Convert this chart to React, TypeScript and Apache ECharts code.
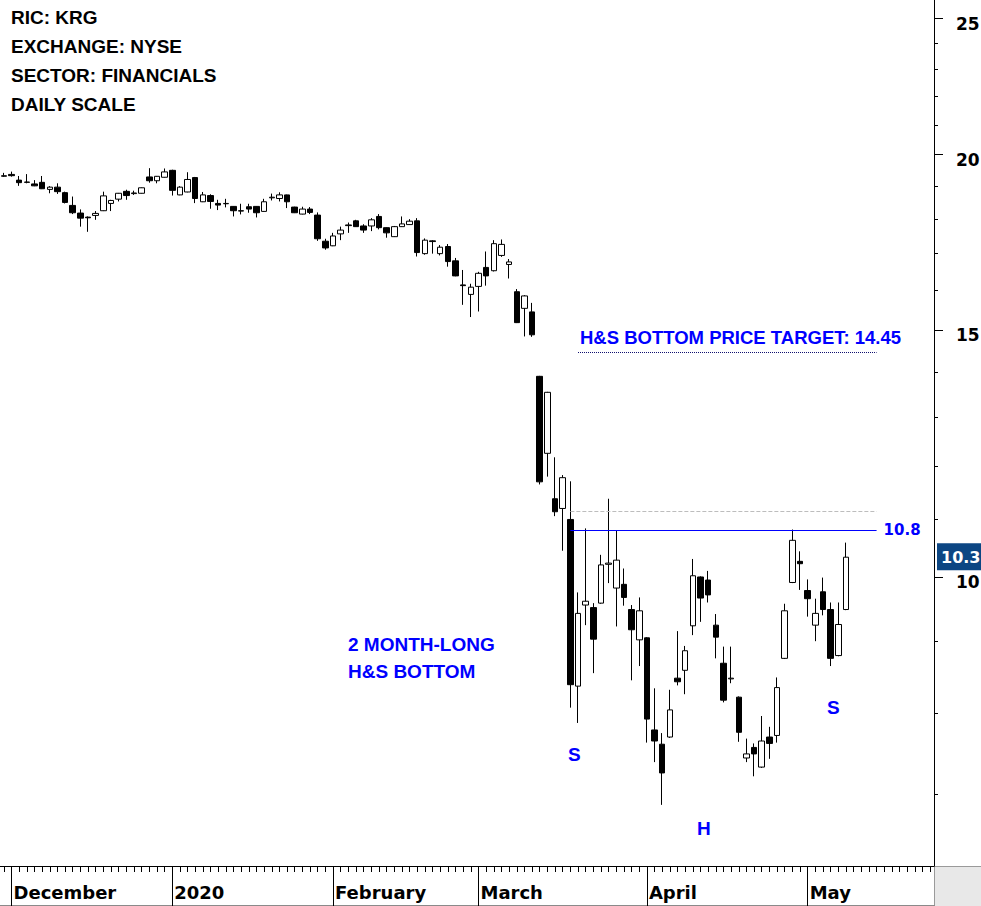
import React, { useEffect, useRef } from "react";
import * as echarts from "echarts";

// Trading days (categories) – data ends 2020-05-08, axis runs on into late May
const dates: string[] = [
  "2019-11-29",
  "2019-12-02", "2019-12-03", "2019-12-04", "2019-12-05", "2019-12-06", "2019-12-09", "2019-12-10", "2019-12-11", "2019-12-12", "2019-12-13",
  "2019-12-16", "2019-12-17", "2019-12-18", "2019-12-19", "2019-12-20", "2019-12-23", "2019-12-24", "2019-12-26", "2019-12-27", "2019-12-30", "2019-12-31",
  "2020-01-02", "2020-01-03", "2020-01-06", "2020-01-07", "2020-01-08", "2020-01-09", "2020-01-10", "2020-01-13", "2020-01-14", "2020-01-15",
  "2020-01-16", "2020-01-17", "2020-01-21", "2020-01-22", "2020-01-23", "2020-01-24", "2020-01-27", "2020-01-28", "2020-01-29", "2020-01-30", "2020-01-31",
  "2020-02-03", "2020-02-04", "2020-02-05", "2020-02-06", "2020-02-07", "2020-02-10", "2020-02-11", "2020-02-12", "2020-02-13", "2020-02-14",
  "2020-02-18", "2020-02-19", "2020-02-20", "2020-02-21", "2020-02-24", "2020-02-25", "2020-02-26", "2020-02-27", "2020-02-28",
  "2020-03-02", "2020-03-03", "2020-03-04", "2020-03-05", "2020-03-06", "2020-03-09", "2020-03-10", "2020-03-11", "2020-03-12", "2020-03-13",
  "2020-03-16", "2020-03-17", "2020-03-18", "2020-03-19", "2020-03-20", "2020-03-23", "2020-03-24", "2020-03-25", "2020-03-26", "2020-03-27",
  "2020-03-30", "2020-03-31",
  "2020-04-01", "2020-04-02", "2020-04-03", "2020-04-06", "2020-04-07", "2020-04-08", "2020-04-09", "2020-04-13", "2020-04-14", "2020-04-15",
  "2020-04-16", "2020-04-17", "2020-04-20", "2020-04-21", "2020-04-22", "2020-04-23", "2020-04-24", "2020-04-27", "2020-04-28", "2020-04-29", "2020-04-30",
  "2020-05-01", "2020-05-04", "2020-05-05", "2020-05-06", "2020-05-07", "2020-05-08",
  "2020-05-11", "2020-05-12", "2020-05-13", "2020-05-14", "2020-05-15", "2020-05-18", "2020-05-19", "2020-05-20", "2020-05-21", "2020-05-22", "2020-05-26",
];

const opens = [
  19.30, 19.36, 19.18, 19.12, 19.06, 19.11, 18.89, 18.96, 18.79, 18.40,
  18.17, 18.05, 18.10, 18.24, 18.46, 18.59, 18.83, 18.76, 18.77, 19.28,
  19.16, 19.27, 19.49, 18.72, 18.81, 19.26, 18.51, 18.70, 18.46, 18.45,
  18.37, 18.24, 18.36, 18.37, 18.22, 18.63, 18.61, 18.72, 18.35, 18.14,
  18.29, 18.11, 17.35, 17.22, 17.56, 17.82, 17.94, 17.79, 17.79, 18.07,
  17.74, 17.48, 17.77, 17.83, 17.94, 17.00, 17.36, 17.00, 17.20, 16.80,
  16.15, 15.90, 16.11, 16.62, 16.53, 16.95, 16.70, 15.97, 15.54, 15.45,
  13.90, 12.25, 11.37, 11.19, 10.99, 8.36, 9.55, 9.51, 9.58, 10.21,
  9.82, 9.88, 9.48, 9.02, 9.05, 7.78, 7.60, 7.69, 8.47, 8.58,
  9.23, 10.00, 9.95, 9.24, 8.68, 8.46, 8.21, 7.43, 7.56, 7.32,
  7.69, 7.71, 8.75, 9.91, 10.26, 9.78, 9.24, 9.76, 9.48, 8.79,
  9.48,
];

const closes = [
  19.32, 19.32, 19.10, 19.11, 19.00, 18.91, 18.96, 18.82, 18.49, 18.18,
  18.02, 18.03, 18.16, 18.69, 18.55, 18.77, 18.70, 18.78, 18.94, 19.16,
  19.30, 19.44, 18.86, 18.96, 19.20, 18.61, 18.72, 18.52, 18.41, 18.46,
  18.24, 18.23, 18.29, 18.18, 18.51, 18.65, 18.72, 18.51, 18.18, 18.29,
  18.19, 17.42, 17.16, 17.50, 17.67, 17.80, 17.77, 17.67, 17.97, 17.74,
  17.59, 17.77, 17.85, 17.93, 17.03, 17.38, 17.34, 17.18, 16.78, 16.39,
  16.13, 16.09, 16.46, 16.39, 17.28, 17.26, 16.77, 15.18, 15.86, 14.88,
  11.69, 13.54, 11.13, 11.77, 8.38, 9.42, 9.61, 9.03, 10.20, 10.23,
  10.28, 9.67, 9.17, 9.46, 7.92, 7.64, 7.25, 8.04, 8.42, 8.86,
  10.02, 9.66, 9.71, 9.06, 8.17, 8.47, 7.75, 7.48, 7.48, 7.64,
  7.61, 8.34, 9.46, 10.62, 10.22, 9.65, 9.42, 9.48, 8.75, 9.25,
  10.33,
];

const lows = [
  19.28, 19.29, 19.00, 19.08, 18.99, 18.90, 18.77, 18.75, 18.46, 18.14,
  17.77, 17.62, 17.97, 18.23, 18.23, 18.52, 18.57, 18.72, 18.76, 19.10,
  19.08, 19.26, 18.70, 18.71, 18.80, 18.47, 18.50, 18.30, 18.26, 18.34,
  18.07, 18.13, 18.18, 18.04, 18.21, 18.55, 18.52, 18.32, 18.17, 18.13,
  18.14, 17.36, 17.11, 17.21, 17.38, 17.59, 17.76, 17.59, 17.64, 17.69,
  17.45, 17.47, 17.76, 17.82, 16.92, 16.97, 17.00, 16.95, 16.64, 16.38,
  15.63, 15.32, 15.46, 16.13, 16.51, 16.91, 16.32, 15.17, 14.84, 14.83,
  11.64, 11.79, 11.05, 10.44, 8.07, 7.87, 9.24, 8.54, 9.57, 9.90,
  9.22, 9.54, 8.44, 8.64, 7.62, 7.38, 6.88, 7.68, 8.37, 8.25,
  9.09, 9.29, 9.59, 8.75, 8.14, 8.40, 7.63, 7.38, 7.21, 7.31,
  7.42, 7.62, 8.74, 9.90, 9.79, 9.37, 9.00, 9.39, 8.64, 8.78,
  9.47,
];

const highs = [
  19.41, 19.45, 19.31, 19.37, 19.18, 19.31, 18.99, 19.08, 18.82, 18.67,
  18.28, 18.07, 18.23, 18.82, 18.57, 18.78, 18.88, 18.85, 18.95, 19.56,
  19.31, 19.55, 19.51, 18.99, 19.43, 19.28, 18.81, 18.74, 18.57, 18.60,
  18.38, 18.45, 18.45, 18.38, 18.60, 18.76, 18.80, 18.73, 18.36, 18.36,
  18.35, 18.19, 17.42, 17.59, 17.77, 17.89, 17.97, 17.84, 18.02, 18.14,
  17.75, 17.79, 18.07, 17.99, 18.02, 17.43, 17.38, 17.24, 17.27, 16.88,
  16.55, 16.18, 16.50, 17.06, 17.38, 17.40, 16.85, 16.04, 15.88, 15.68,
  13.91, 13.55, 12.17, 11.82, 11.70, 9.75, 10.83, 9.58, 10.37, 11.37,
  10.80, 10.14, 9.55, 9.67, 9.06, 8.33, 7.74, 8.31, 9.15, 8.93,
  10.30, 10.01, 10.10, 9.41, 8.92, 8.92, 8.22, 7.67, 7.61, 7.96,
  7.82, 8.48, 9.57, 10.81, 10.43, 9.96, 9.65, 9.99, 9.59, 9.59,
  10.58,
];

const monthKeys = ["2019-12", "2020-01", "2020-02", "2020-03", "2020-04", "2020-05"];
const monthNames = ["December", "2020", "February", "March", "April", "May"];

const yMajorTicks = [10, 15, 20, 25];
const yMinorTicks = [7, 8, 9, 11, 12, 13, 14, 16, 17, 18, 19, 21, 22, 23, 24];

const Y_MIN = 6.2232;
const Y_MAX = 25.776;

const neckline = 10.8;
const resistance = 11.14;
const priceTarget = 14.45;
const necklineStart = 74;
const targetStart = 75;
const lineEnd = 114;

const infoLines = ["RIC: KRG", "EXCHANGE: NYSE", "SECTOR: FINANCIALS", "DAILY SCALE"];

const BLUE = "#0000ff";
const TEXT_FONT = '"Liberation Sans", Arial, sans-serif';
const AXIS_FONT = '"DejaVu Sans", Verdana, sans-serif';

const isMonthStart = (i: number) => i > 0 && dates[i].slice(0, 7) !== dates[i - 1].slice(0, 7);

export default function App() {
  const ref = useRef<HTMLDivElement>(null);

  useEffect(() => {
    const el = ref.current!;
    const chart = echarts.init(el, undefined, { renderer: "svg", width: 981, height: 906 });

    const candles = opens.map((o, i) => [o, closes[i], lows[i], highs[i]]);
    const logMin = Math.log10(Y_MIN);
    const logMax = Math.log10(Y_MAX);

    const option: any = {
      animation: false,
      backgroundColor: "#ffffff",
      grid: { left: 0, right: 47, top: 0, bottom: 40, outerBoundsMode: "none", containLabel: false },
      xAxis: [
        {
          type: "category",
          data: dates,
          boundaryGap: true,
          axisLine: { show: true, lineStyle: { color: "#000", width: 1 } },
          axisTick: { show: true, interval: 0, alignWithLabel: true, length: 6, lineStyle: { color: "#000", width: 1 } },
          axisLabel: {
            show: true,
            interval: (i: number) => isMonthStart(i),
            formatter: (v: string) => monthNames[monthKeys.indexOf(v.slice(0, 7))] ?? "",
            align: "left",
            margin: 17,
            padding: [0, 0, 0, 2],
            color: "#000",
            fontFamily: AXIS_FONT,
            fontWeight: "bold",
            fontSize: 18,
          },
          splitLine: { show: false },
        },
        {
          type: "category",
          data: dates,
          boundaryGap: true,
          position: "bottom",
          axisLine: { show: false },
          axisTick: { show: true, interval: (i: number) => isMonthStart(i), alignWithLabel: true, length: 40, lineStyle: { color: "#000", width: 1 } },
          axisLabel: { show: false },
          splitLine: { show: false },
        },
      ],
      yAxis: [
        {
          type: "log",
          logBase: 10,
          min: Y_MIN,
          max: Y_MAX,
          position: "right",
          axisLine: { show: true, lineStyle: { color: "#000", width: 1 } },
          axisTick: { show: false },
          axisLabel: { show: false },
          splitLine: { show: false },
        },
        {
          type: "value",
          min: logMin,
          max: logMax,
          position: "right",
          axisLine: { show: false },
          axisTick: { show: true, customValues: yMajorTicks.map((v) => Math.log10(v)), length: 9, lineStyle: { color: "#000" } },
          axisLabel: {
            show: true,
            customValues: yMajorTicks.map((v) => Math.log10(v)),
            formatter: (v: number) => String(Math.round(Math.pow(10, v))),
            margin: 22,
            verticalAlign: "top",
            lineHeight: 10,
            color: "#000",
            fontFamily: AXIS_FONT,
            fontWeight: "bold",
            fontSize: 17,
          },
          splitLine: { show: false },
        },
        {
          type: "value",
          min: logMin,
          max: logMax,
          position: "right",
          axisLine: { show: false },
          axisTick: { show: true, customValues: yMinorTicks.map((v) => Math.log10(v)), length: 4, lineStyle: { color: "#000" } },
          axisLabel: { show: false },
          splitLine: { show: false },
        },
      ],
      series: [
        {
          type: "candlestick",
          xAxisIndex: 0,
          yAxisIndex: 0,
          data: candles,
          barWidth: 6,
          itemStyle: { color: "#ffffff", color0: "#000000", borderColor: "#000000", borderColor0: "#000000", borderWidth: 1 },
          markLine: {
            silent: true,
            symbol: "none",
            animation: false,
            data: [
              [
                {
                  coord: [dates[necklineStart], resistance],
                  lineStyle: { color: "#bdbdbd", type: "dashed", width: 1 },
                  label: { show: false },
                },
                { coord: [dates[lineEnd], resistance] },
              ],
              [
                {
                  coord: [dates[necklineStart], neckline],
                  lineStyle: { color: BLUE, type: "solid", width: 1 },
                  label: {
                    show: true,
                    position: "end",
                    formatter: String(neckline),
                    color: BLUE,
                    fontFamily: AXIS_FONT,
                    fontWeight: "bold",
                    fontSize: 15,
                    distance: 7,
                  },
                },
                { coord: [dates[lineEnd], neckline] },
              ],
              [
                {
                  coord: [dates[targetStart], priceTarget],
                  lineStyle: { color: "#101070", type: "dotted", width: 1 },
                  label: {
                    show: true,
                    position: "insideStartTop",
                    formatter: "H&S BOTTOM PRICE TARGET: " + priceTarget,
                    color: BLUE,
                    fontFamily: TEXT_FONT,
                    fontWeight: "bold",
                    fontSize: 18.5,
                    distance: [2, 6],
                  },
                },
                { coord: [dates[lineEnd], priceTarget] },
              ],
            ],
          },
        },
      ],
    };

    chart.setOption(option);

    const lastClose = closes[closes.length - 1];
    const py = chart.convertToPixel({ yAxisIndex: 0 }, lastClose) as number;

    const txt = (id: string, text: string, x: number, y: number, fill: string, size: number, family = TEXT_FONT) => ({
      type: "text",
      id,
      x,
      y,
      silent: true,
      style: { text, fill, font: `bold ${size}px ${family}`, align: "left", verticalAlign: "middle" },
    });

    const graphics: any[] = [
      ...infoLines.map((t, i) => txt("info" + i, t, 11, 17 + i * 29, "#000", 19)),
      txt("ms1", "2 MONTH-LONG", 348, 644, BLUE, 19),
      txt("ms2", "H&S BOTTOM", 348, 671, BLUE, 19),
      txt("lblS1", "S", 568, 754, BLUE, 19),
      txt("lblH", "H", 697, 828, BLUE, 19),
      txt("lblS2", "S", 827, 707, BLUE, 19),
      {
        type: "rect",
        id: "lastBox",
        silent: true,
        shape: { x: 937, y: py - 14, width: 50, height: 27 },
        style: { fill: "#0c4683" },
      },
      txt("lastTxt", lastClose.toFixed(1), 941, py, "#ffffff", 16, AXIS_FONT),
      {
        type: "rect",
        id: "cornerBox",
        silent: true,
        shape: { x: 934.5, y: 866.5, width: 50, height: 44 },
        style: { fill: "#e8e8e8", stroke: "#9a9a9a", lineWidth: 1 },
      },
      {
        type: "line",
        id: "bottomLine",
        silent: true,
        shape: { x1: 0, y1: 905.5, x2: 935, y2: 905.5 },
        style: { stroke: "#8a8a8a", lineWidth: 1 },
      },
    ];

    chart.setOption({ graphic: graphics });

    return () => chart.dispose();
  }, []);

  return (
    <div
      ref={ref}
      style={{ position: "fixed", left: 0, top: 0, width: 981, height: 906, background: "#ffffff" }}
    />
  );
}
